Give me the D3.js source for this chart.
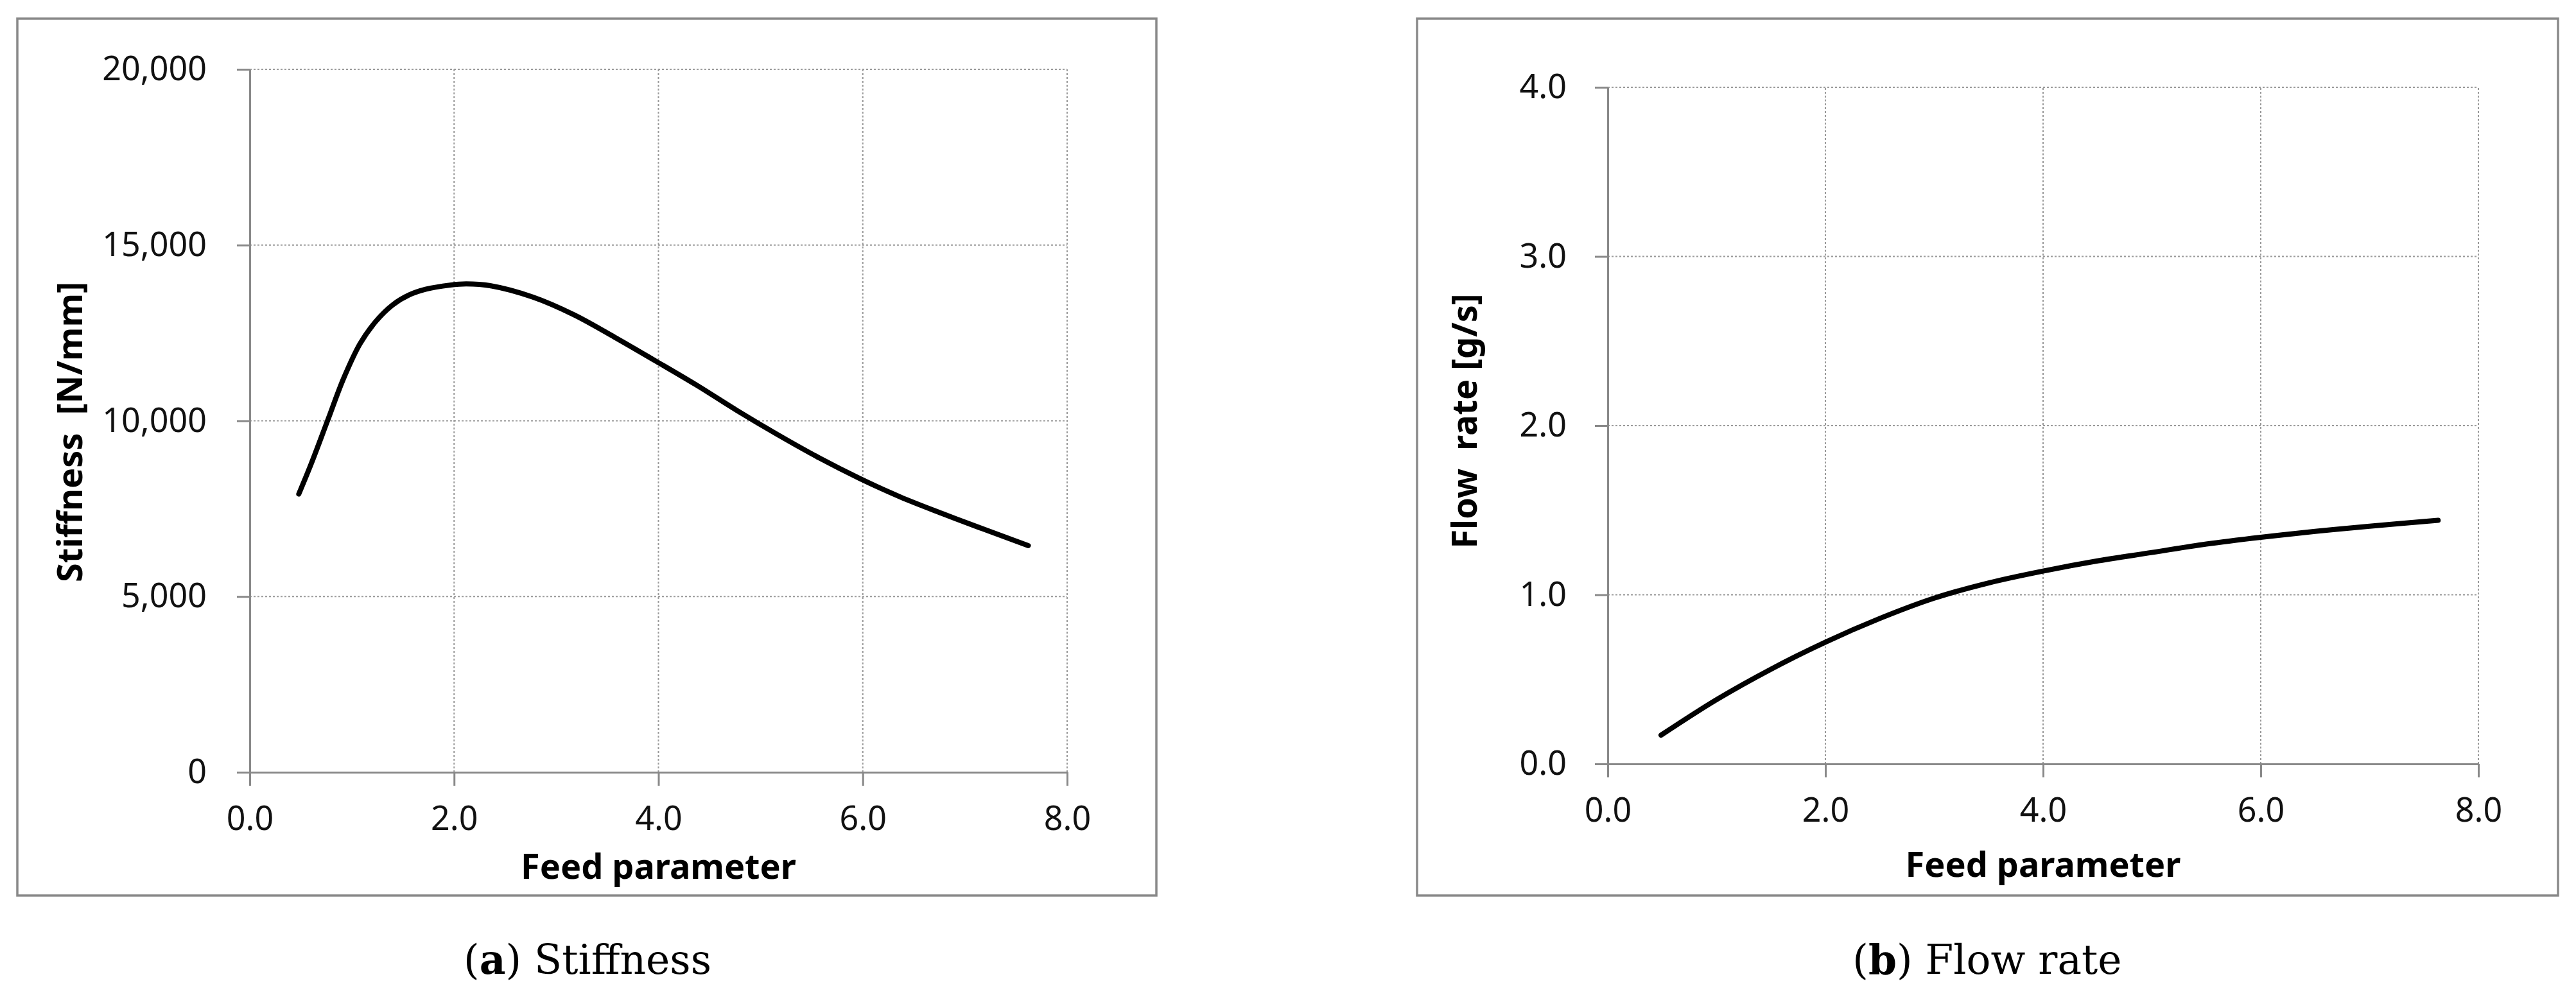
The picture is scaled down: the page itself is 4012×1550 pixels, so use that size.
<!DOCTYPE html>
<html>
<head>
<meta charset="utf-8">
<script src="https://cdn.jsdelivr.net/npm/d3@7"></script>
<style>
  html, body { margin: 0; padding: 0; background: #fff; }
  svg { display: block; }
  text { white-space: pre; }
</style>
</head>
<body>
<svg id="chart" width="4012" height="1550"></svg>
<script>
// ---- Data ----
const xTicks = [0, 2, 4, 6, 8];
const stiffTicks = [0, 5000, 10000, 15000, 20000];
const flowTicks = [0, 1, 2, 3, 4];

const stiffX = [0.48, 0.60, 0.76, 0.92, 1.08, 1.24, 1.40, 1.56, 1.72, 1.96, 2.12, 2.36, 2.77, 3.17, 3.57, 3.97, 4.37, 4.77, 5.17, 5.57, 5.97, 6.37, 6.77, 7.17, 7.62];
const stiffY = [7918, 8767, 9992, 11216, 12196, 12849, 13300, 13580, 13740, 13861, 13894, 13840, 13520, 13020, 12380, 11706, 11020, 10290, 9600, 8950, 8360, 7830, 7370, 6930, 6449];

const flowX = [0.49, 1.0, 1.5, 2.0, 2.5, 3.0, 3.5, 4.0, 4.5, 5.0, 5.5, 6.0, 6.5, 7.0, 7.63];
const flowY = [0.17, 0.38, 0.56, 0.72, 0.86, 0.98, 1.07, 1.14, 1.20, 1.25, 1.30, 1.34, 1.375, 1.405, 1.44];

const xTitle = "Feed parameter";
const stiffTitle = "Stiffness  [N/mm]";
const flowTitle = "Flow  rate [g/s]";

// ---- Drawing ----
const svg = d3.select("#chart");
const AXIS = "#898989";
const GRID = "#9a9a9a";
const FONT = "'Noto Sans', 'Open Sans', sans-serif";

function panel(cfg) {
  const g = svg.append("g");
  // frame
  g.append("rect")
    .attr("x", cfg.frame[0]).attr("y", cfg.frame[1])
    .attr("width", cfg.frame[2] - cfg.frame[0]).attr("height", cfg.frame[3] - cfg.frame[1])
    .attr("fill", "#fff").attr("stroke", AXIS).attr("stroke-width", 3.5);

  const x = d3.scaleLinear().domain([0, 8]).range(cfg.xr);
  const y = d3.scaleLinear().domain(cfg.yDomain).range(cfg.yr);

  // gridlines
  g.append("g").selectAll("line").data(cfg.yTicks.filter(d => d !== cfg.yDomain[0])).join("line")
    .attr("x1", x(0)).attr("x2", x(8)).attr("y1", d => y(d)).attr("y2", d => y(d))
    .attr("stroke", GRID).attr("stroke-width", 2).attr("stroke-dasharray", "3,3");
  g.append("g").selectAll("line").data(xTicks.filter(d => d !== 0)).join("line")
    .attr("x1", d => x(d)).attr("x2", d => x(d)).attr("y1", y(cfg.yDomain[0])).attr("y2", y(cfg.yDomain[1]))
    .attr("stroke", GRID).attr("stroke-width", 2).attr("stroke-dasharray", "3,3");

  // axes
  const ax = g.append("g").attr("transform", `translate(0,${y(cfg.yDomain[0])})`)
    .call(d3.axisBottom(x).tickValues(xTicks).tickFormat(d3.format(".1f")).tickSize(21).tickSizeOuter(0).tickPadding(32));
  const ay = g.append("g").attr("transform", `translate(${x(0)},0)`)
    .call(d3.axisLeft(y).tickValues(cfg.yTicks).tickFormat(cfg.fmt).tickSize(20).tickSizeOuter(0).tickPadding(cfg.yPad));
  [ax, ay].forEach(a => {
    a.select(".domain").attr("stroke", AXIS).attr("stroke-width", 3);
    a.selectAll(".tick line").attr("stroke", AXIS).attr("stroke-width", 3);
    a.selectAll(".tick text").attr("fill", "#111").style("font-family", FONT).style("font-size", "52px");
  });

  // curve
  const pts = cfg.xs.map((v, i) => [v, cfg.ys[i]]);
  g.append("path").datum(pts)
    .attr("d", d3.line().x(d => x(d[0])).y(d => y(d[1])).curve(d3.curveCatmullRom.alpha(0.5)))
    .attr("fill", "none").attr("stroke", "#000").attr("stroke-width", 8).attr("stroke-linecap", "round");

  // axis titles
  g.append("text").text(xTitle)
    .attr("x", (cfg.xr[0] + cfg.xr[1]) / 2).attr("y", cfg.xTitleY)
    .attr("text-anchor", "middle").style("font-family", FONT).style("font-weight", "bold").style("font-size", "54px");
  g.append("text").text(cfg.yTitle)
    .attr("transform", `translate(${cfg.yTitleX},${cfg.yTitleCY}) rotate(-90)`)
    .attr("text-anchor", "middle").style("font-family", FONT).style("font-weight", "bold").style("font-size", "54px");

  // caption
  const cap = svg.append("text")
    .attr("x", cfg.capX).attr("y", 1517).attr("text-anchor", "middle")
    .style("font-family", "'DejaVu Serif', 'Liberation Serif', serif").style("font-size", "63px");
  cap.append("tspan").text("(");
  cap.append("tspan").text(cfg.capLetter).style("font-weight", "bold");
  cap.append("tspan").text(") " + cfg.capText);
}

panel({
  frame: [27, 29, 1801, 1395],
  xr: [389, 1662], yr: [1203, 108], yDomain: [0, 20000],
  yTicks: stiffTicks, fmt: d3.format(","), yPad: 47,
  xs: stiffX, ys: stiffY,
  xTitleY: 1369, yTitle: stiffTitle, yTitleX: 128, yTitleCY: 673,
  capX: 915, capLetter: "a", capText: "Stiffness"
});

panel({
  frame: [2207, 29, 3984, 1395],
  xr: [2504, 3860], yr: [1190, 136], yDomain: [0, 4],
  yTicks: flowTicks, fmt: d3.format(".1f"), yPad: 44,
  xs: flowX, ys: flowY,
  xTitleY: 1366, yTitle: flowTitle, yTitleX: 2300, yTitleCY: 656,
  capX: 3095, capLetter: "b", capText: "Flow rate"
});
</script>
</body>
</html>
